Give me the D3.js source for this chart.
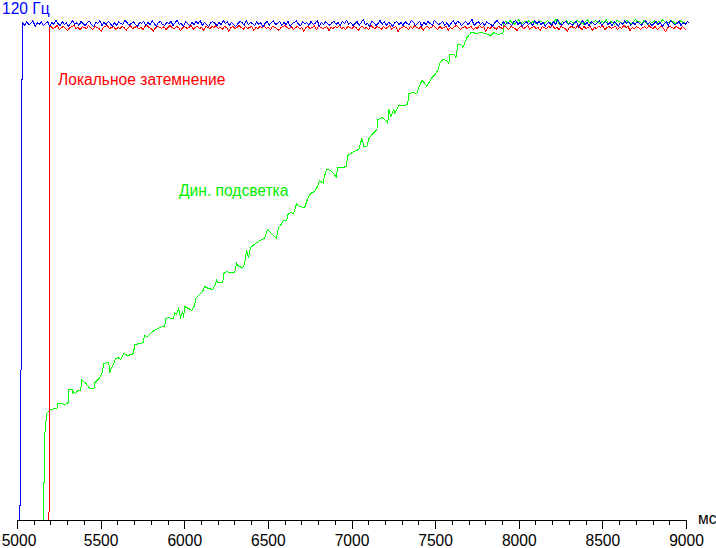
<!DOCTYPE html>
<html>
<head>
<meta charset="utf-8">
<script src="https://cdn.jsdelivr.net/npm/d3@7"></script>
<style>
  html, body { margin: 0; padding: 0; background: #fff; }
  svg { display: block; }
  text { font-family: "Liberation Sans", Arial, sans-serif; }
</style>
</head>
<body>
<svg id="chart" width="716" height="548"></svg>
<script>
// ---- data ----
const xTicks = [5000, 5500, 6000, 6500, 7000, 7500, 8000, 8500, 9000];
const xUnit = "мс";
const yUnitLabel = "120 Гц";
const seriesNames = ["Локальное затемнение", "Дин. подсветка"];
const noiseStep = 12.5;

// blue: 120 Hz
const blueStart = [[5000, 0], [5012, 0], [5013, 3], [5018, 3], [5020, 20], [5028, 97.4]];
const blueNoiseStart = 5030;
const blueNoise = [
  99.6,99.0,99.8,99.2,99.4,100.0,98.8,99.6,99.2,99.8,99.0,99.4,99.8,98.8,99.6,99.2,100.0,99.4,99.0,99.8,
  99.2,99.6,98.8,99.4,100.0,99.2,99.6,99.0,99.8,99.4,99.0,99.6,99.8,99.2,98.8,99.6,99.4,100.0,99.0,99.6,
  99.2,99.8,99.4,98.8,99.6,99.0,99.8,99.4,99.2,100.0,99.6,99.0,99.4,99.8,99.2,98.8,99.6,99.4,99.8,99.0,
  99.6,99.2,100.0,99.4,98.8,99.6,99.8,99.2,99.0,99.6,99.4,99.8,99.0,99.6,100.0,99.2,99.4,98.8,99.8,99.4,
  99.0,99.6,99.2,99.8,99.4,100.0,99.0,99.6,99.2,98.8,99.6,99.8,99.4,99.0,99.6,99.2,100.0,99.4,99.8,99.0,
  99.6,99.2,98.8,99.4,99.8,99.6,99.0,100.0,99.2,99.6,99.4,99.0,99.8,99.2,99.6,98.8,99.4,99.8,99.0,99.6,
  100.0,99.2,99.4,99.8,99.0,99.6,99.2,99.8,98.8,99.4,99.6,100.0,99.2,99.0,99.8,99.4,99.6,99.0,99.8,99.2,
  99.4,100.0,98.8,99.6,99.2,99.8,99.4,99.0,99.6,99.8,99.2,99.6,99.0,99.8,99.4,100.0,99.2,99.6,99.0,99.4,
  99.8,99.0,99.6,100.2,99.2,99.4,98.8,99.8,99.6,99.0,99.4,100.0,99.2,99.8,99.0,99.6,99.4,98.8,99.6,99.8,
  99.2,99.6,99.0,99.8,99.4,99.2,100.0,99.6,99.0,99.4,99.8,98.8,99.6,99.2,99.8,99.4,99.0,100.0,99.6,99.2,
  99.4,99.8,99.0,99.6,98.8,99.4,100.0,99.2,99.8,99.6,99.0,99.4,99.8,99.2,99.6,100.2,99.0,99.4,99.8,99.2,
  99.6,99.0,99.8,99.4,99.2,98.8,99.6,100.0,99.4,99.0,99.8,99.2,99.6,99.4,99.0,99.8,100.0,99.2,99.6,98.8,
  99.4,99.8,99.2,99.6,99.0,100.0,99.4,99.8,99.2,99.6,98.8,99.4,99.6,99.0,99.8,99.2,100.2,99.4,99.0,99.6,
  99.8,99.2,99.4,99.0,99.6,99.8,98.8,99.4,100.0,99.2,99.6,99.0,99.8,99.4,99.2,99.6,100.0,99.0,99.4,99.8,
  99.2,99.6,99.0,99.8,99.4,98.8,99.6,99.2,100.0,99.4,99.8,99.0,99.6,99.2,99.8,99.4,99.0,99.6,100.0,99.2,
  99.6,99.0,99.4,99.8,99.2,99.6,98.8,99.4,99.8,99.0,100.0,99.6,99.2,99.4,99.8,99.0,99.6,99.2,99.8,99.4
];

// red: local dimming
const redStart = [[5000, 0], [5186, 0], [5187, 1.6], [5192, 2], [5193, 98.8]];
const redNoiseStart = 5200;
const redNoise = [
  98.8,98.4,98.6,99.0,98.2,98.6,98.8,98.4,98.0,98.6,98.8,99.0,98.4,98.6,98.2,98.8,98.6,98.4,99.0,98.6,
  98.2,98.8,98.6,98.4,97.8,98.6,98.8,99.0,98.4,98.6,98.8,98.2,98.6,98.4,98.8,98.6,98.0,98.6,99.0,98.4,
  98.6,98.8,98.4,98.6,98.2,98.8,99.0,98.6,98.4,97.8,98.6,98.8,98.6,98.4,98.8,98.2,98.6,99.0,98.6,98.4,
  98.8,98.6,98.0,98.6,98.8,98.4,98.6,99.0,98.2,98.6,98.8,98.4,98.6,98.0,98.8,98.6,98.4,98.8,98.6,99.0,
  98.4,98.6,98.2,98.8,98.6,97.8,98.6,98.8,98.4,98.6,99.0,98.6,98.2,98.8,98.4,98.6,98.8,98.0,98.6,98.4,
  98.8,98.6,99.0,98.4,98.6,98.2,98.8,98.6,98.4,98.0,98.6,98.8,99.0,98.6,98.4,98.8,98.2,98.6,98.8,98.4,
  98.6,97.8,98.6,98.8,98.4,98.6,99.0,98.2,98.8,98.6,98.4,98.6,98.8,98.0,98.6,98.4,98.8,98.6,99.0,98.4,
  98.6,98.2,98.8,98.6,98.4,98.8,98.6,98.0,98.6,98.8,98.4,98.6,98.2,99.0,98.6,98.4,98.8,98.6,98.2,98.8,
  98.4,98.6,99.0,98.2,98.6,98.8,97.8,98.4,98.6,98.8,98.6,98.2,98.8,98.4,99.0,98.6,98.4,98.8,98.0,98.6,
  98.8,98.4,98.6,99.0,98.6,98.2,98.8,98.4,98.6,98.8,98.0,98.6,98.4,98.8,99.0,98.6,98.2,98.6,98.8,98.4,
  98.6,98.8,98.2,98.6,98.4,99.0,98.6,98.8,97.8,98.6,98.4,98.8,98.6,98.2,98.8,98.6,98.4,99.0,98.6,98.2,
  98.8,98.6,98.4,98.0,98.6,98.8,98.4,98.6,99.0,98.2,98.6,98.8,98.4,98.6,98.0,98.8,98.6,98.4,98.8,98.6,
  99.0,98.4,98.6,98.2,98.8,98.6,98.4,97.8,98.6,98.8,98.6,98.4,99.0,98.6,98.2,98.8,98.4,98.6,98.8,98.0,
  98.6,98.4,98.8,98.6,99.0,98.2,98.6,98.8,98.4,98.6,98.8,98.2,98.6,98.4,99.0,98.6,98.8,98.0,98.6,98.4,
  98.8,98.6,98.2,98.6,98.8,98.4,99.0,98.6,98.4,98.8,98.2,98.6,98.8,98.4,97.8,98.6,98.8,98.6,98.4,98.8,
  98.6,98.2,98.8,98.4,98.0
];

// green: dynamic backlight ramp
const greenRamp = [
  [5000,0],[5157,0],[5158,6.6],[5164,17.6],[5175,21.4],[5187,21.8],[5199,22.2],[5229,22.4],[5241,22.6],[5242,23.4],
  [5270,23.4],[5276,23.2],[5300,23.4],[5306,24],[5307,26.2],[5330,26.2],[5331,25.4],[5336,25.8],[5348,25.4],[5360,26],
  [5378,26],[5384,28.2],[5396,27.8],[5409,27.4],[5433,26.4],[5457,26.4],[5463,27.6],[5487,28.4],[5505,29.4],[5516,31.4],
  [5546,31.6],[5551,29.6],[5563,30.6],[5575,31.4],[5587,32.4],[5599,32.6],[5617,32.2],[5635,33.4],[5658,33],[5682,33.2],
  [5694,33.4],[5700,35.2],[5735,35.4],[5753,35.6],[5758,37],[5776,36.8],[5808,37.8],[5838,38.4],[5868,38.8],[5880,38.8],
  [5886,40.4],[5904,40.6],[5921,40.4],[5933,40.4],[5939,41.6],[5951,41.2],[5963,42.4],[5975,40.6],[5987,41.8],[5993,40.6],
  [5999,42.8],[6023,42.4],[6041,42],[6059,43],[6065,44.4],[6083,45],[6107,45.8],[6119,46.8],[6142,46.4],[6166,46.2],
  [6178,46.8],[6190,48],[6196,47.6],[6227,47.6],[6233,49.4],[6251,49.8],[6262,49.6],[6298,49.6],[6310,51.4],[6322,50.8],
  [6345,50.6],[6357,51.2],[6369,54],[6381,52.6],[6393,54.6],[6423,55.4],[6459,56.2],[6477,56.4],[6495,58.2],[6513,57.6],
  [6530,57],[6548,56.4],[6560,58.6],[6572,59],[6590,60],[6610,60],[6616,61.2],[6634,61.6],[6651,61.4],[6669,63.4],
  [6687,62.8],[6717,62.6],[6735,64.4],[6753,65.4],[6776,65.8],[6794,66.8],[6806,68],[6830,67.4],[6831,68.4],[6848,70.2],
  [6872,70],[6890,69.4],[6907,68.6],[6913,70.6],[6943,70.6],[6967,70.8],[6973,73],[6985,73.2],[7011,73.8],[7041,74.2],
  [7059,76.4],[7071,74.8],[7089,74.8],[7101,76.4],[7125,77.4],[7149,78.2],[7155,80.2],[7179,80.6],[7202,80],[7214,79.4],
  [7220,82.2],[7232,80.8],[7250,82.2],[7256,81.4],[7279,83],[7309,83],[7333,83.2],[7339,85.4],[7363,85.6],[7387,85.4],
  [7400,86.6],[7418,88],[7430,87.6],[7448,86.8],[7460,87.6],[7478,88.6],[7496,89.2],[7513,90],[7525,91.4],[7543,92.2],
  [7567,92],[7579,91.4],[7585,93.2],[7609,93.2],[7621,92.6],[7633,95.2],[7651,95.2],[7663,94.6],[7675,95.6],[7687,96.6],
  [7699,97],[7711,97.6],[7753,97.4],[7770,97.6],[7800,97.4],[7830,97],[7848,97.6],[7872,97.2],[7902,97.4],[7908,99.6]
];
const greenNoiseStart = 7920;
const greenNoise = [
  99.8,99.4,100.0,99.6,99.2,99.8,100.2,99.6,99.4,99.8,99.6,100.0,99.4,99.8,99.6,99.2,100.0,99.8,99.4,99.6,
  100.0,99.6,99.4,99.8,100.2,99.6,99.2,99.8,99.6,100.0,99.4,99.8,99.6,99.4,100.0,99.8,99.6,99.2,99.8,100.2,
  99.6,99.4,99.8,100.0,99.6,99.4,99.8,99.6,100.2,99.4,99.8,99.6,99.2,100.0,99.8,99.6,99.4,99.8,100.0,99.6,
  99.4,99.8,100.2,99.6,99.8,99.4,100.0,99.6,99.2,99.8,99.6,100.0,99.4,99.8,99.6,100.2,99.8,99.4,99.6,100.0,
  99.8,99.4,99.6,100.0,99.8,99.6,99.4
];

// ---- build series ----
function withNoise(start, t0, vals) {
  return start.concat(vals.map((v, i) => [t0 + i * noiseStep, v]));
}
const blueData = withNoise(blueStart, blueNoiseStart, blueNoise);
const redData = withNoise(redStart, redNoiseStart, redNoise);
const greenData = withNoise(greenRamp, greenNoiseStart, greenNoise);

// ---- draw ----
const svg = d3.select("#chart");
svg.append("rect").attr("width", 716).attr("height", 548).attr("fill", "#fff");

const x = d3.scaleLinear().domain([5000, 9000]).range([17, 686]);
const y = d3.scaleLinear().domain([0, 100]).range([520, 20]);

const line = d3.line().x(d => x(d[0])).y(d => y(d[1]));

const plot = svg.append("g").attr("transform", "translate(0.5,0.5)");
[[greenData, "#00ff00"], [redData, "#ff0000"], [blueData, "#0000ff"]].forEach(([data, c]) => {
  plot.append("path").datum(data)
    .attr("d", line)
    .attr("fill", "none")
    .attr("stroke", c)
    .attr("stroke-width", 1)
    .attr("shape-rendering", "crispEdges");
});

// axis
const minor = d3.range(5000, 9001, 100).filter(v => !xTicks.includes(v));
const axisG = svg.append("g").attr("transform", "translate(0,520)");
axisG.call(d3.axisBottom(x).tickValues(xTicks).tickSize(9).tickSizeOuter(0).tickFormat(""));
axisG.selectAll("path, line").attr("stroke", "#000").attr("shape-rendering", "crispEdges");
axisG.selectAll(".minor").data(minor).enter().append("line")
  .attr("class", "minor")
  .attr("x1", d => x(d) + 0.5).attr("x2", d => x(d) + 0.5)
  .attr("y1", 0).attr("y2", 5)
  .attr("stroke", "#000").attr("shape-rendering", "crispEdges");

const fs = 15.6;
svg.append("g").selectAll("text").data(xTicks).enter().append("text")
  .attr("x", d => Math.max(x(d) + 0.5, 19)).attr("y", 546)
  .attr("text-anchor", "middle")
  .attr("font-size", fs)
  .attr("fill", "#000")
  .text(d => d);

svg.append("text").attr("x", 698).attr("y", 524).attr("font-size", fs).attr("fill", "#000").text(xUnit);
svg.append("text").attr("x", 2).attr("y", 14).attr("font-size", fs).attr("fill", "#0000ff").text(yUnitLabel);
svg.append("text").attr("x", 58).attr("y", 85).attr("font-size", fs).attr("fill", "#ff0000").text(seriesNames[0]);
svg.append("text").attr("x", 179).attr("y", 196).attr("font-size", fs).attr("fill", "#00ee00").text(seriesNames[1]);
</script>
</body>
</html>
